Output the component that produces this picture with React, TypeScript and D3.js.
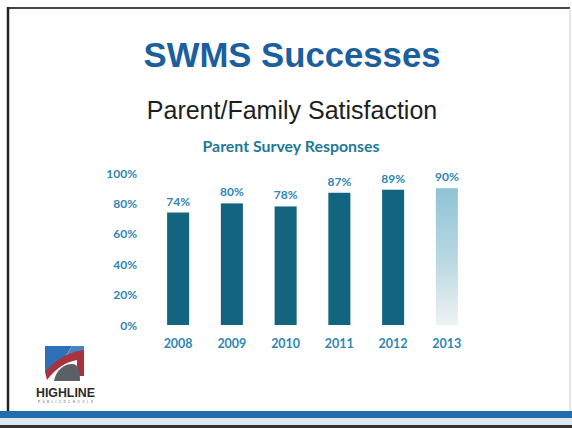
import React from "react";
import * as d3 from "d3";

const years = ["2008", "2009", "2010", "2011", "2012", "2013"];
const values = [74, 80, 78, 87, 89, 90];
const projected = [false, false, false, false, false, true];
const yTicks = [0, 20, 40, 60, 80, 100];

export default function App() {
  const W = 572, H = 428;
  const x = d3.scaleBand<string>().domain(years).range([151, 474]).paddingInner(0.59).paddingOuter(0.3);
  const y = d3.scaleLinear().domain([0, 100]).range([325, 173]);
  const font = "Lato, 'Open Sans', sans-serif";
  const tickColor = "#2f87b3";
  const barColor = "#12647f";
  return (
    <svg width={W} height={H} style={{ position: "absolute", left: 0, top: 0, background: "#fff" }}>
      <defs>
        <linearGradient id="proj" x1="0" y1="0" x2="0" y2="1">
          <stop offset="0%" stopColor="#8ec3d5" />
          <stop offset="55%" stopColor="#bcd9e3" />
          <stop offset="100%" stopColor="#eef2f3" />
        </linearGradient>
      </defs>
      <rect x={0} y={0} width={W} height={H} fill="#fff" />
      {/* frame */}
      <line x1={8} y1={8} x2={570} y2={8} stroke="#444" strokeWidth={2} />
      <line x1={8} y1={7} x2={8} y2={412} stroke="#222" strokeWidth={2.5} />
      <line x1={570} y1={8} x2={570} y2={412} stroke="#ccc" strokeWidth={1} />
      <rect x={0} y={411} width={W} height={7} fill="#1f6fae" />
      <rect x={0} y={418} width={W} height={7} fill="#dfe6ec" />
      <rect x={0} y={425} width={W} height={3} fill="#333" />

      <text x={292} y={67} textAnchor="middle" fontFamily="'Liberation Sans', Arial, sans-serif" fontWeight="bold" fontSize={34.5} fill="#1c5f9e" textLength={297} lengthAdjust="spacingAndGlyphs">SWMS Successes</text>
      <text x={292} y={119} textAnchor="middle" fontFamily="'Liberation Sans', Arial, sans-serif" fontSize={25} fill="#1e1e1e">Parent/Family Satisfaction</text>
      <text x={291} y={152} textAnchor="middle" fontFamily={font} fontWeight="bold" fontSize={15} fill="#1f7896" textLength={177} lengthAdjust="spacingAndGlyphs">Parent Survey Responses</text>

      {yTicks.map((t) => (
        <text key={t} x={137} y={y(t) + 4.5} textAnchor="end" fontFamily={font} fontWeight="bold" fontSize={12} fill={tickColor}>{t}%</text>
      ))}

      {years.map((yr, i) => (
        <g key={yr}>
          <rect x={x(yr)} y={y(values[i])} width={x.bandwidth()} height={y(0) - y(values[i])} fill={projected[i] ? "url(#proj)" : barColor} />
          <text x={(x(yr) as number) + x.bandwidth() / 2} y={y(values[i]) - 7} textAnchor="middle" fontFamily={font} fontWeight="bold" fontSize={12} fill={tickColor}>{values[i]}%</text>
          <text x={(x(yr) as number) + x.bandwidth() / 2} y={348} textAnchor="middle" fontFamily={font} fontWeight="bold" fontSize={12.5} fill={tickColor}>{yr}</text>
        </g>
      ))}

      {/* logo */}
      <g>
        <path d="M45,346 L72,346 L62,362 L45,372 Z" fill="#2e6fb5" />
        <path d="M72,346 L84,346 L84,352 L66,356 Z" fill="#4a82c0" />
        <path d="M45,372 C55,360 68,352 84,350 L84,376 L77,376 L77,360 C66,362 56,368 47,380 Z" fill="#a8323e" />
        <path d="M54,381 C56,370 64,364 72,364 C78,364 80,370 80,381 Z" fill="#5c5f66" />
        <text x={36} y={397} fontFamily="'Liberation Sans Narrow', 'Liberation Sans', sans-serif" fontWeight="bold" fontSize={13} fill="#2b2b2b" textLength={59} lengthAdjust="spacingAndGlyphs">HIGHLINE</text>
        <text x={38} y={403} fontFamily="'Liberation Sans', sans-serif" fontSize={3} fill="#555" textLength={55}>P U B L I C   S C H O O L S</text>
      </g>
    </svg>
  );
}
